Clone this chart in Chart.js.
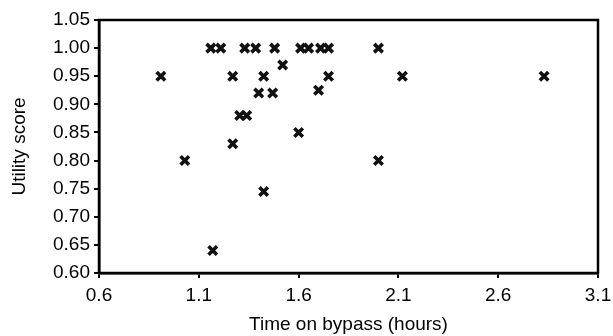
<!DOCTYPE html>
<html>
<head>
<meta charset="utf-8">
<script src="https://cdn.jsdelivr.net/npm/chart.js@4"></script>
<style>
  html, body { margin: 0; padding: 0; background: #fff; }
  #wrap { width: 613px; height: 336px; }
</style>
</head>
<body>
<div id="wrap"><canvas id="grafico"></canvas></div>
<script>
// horas de bypass e utility score
var horas = [0.91, 1.03, 1.16, 1.21, 1.17, 1.27, 1.27, 1.305, 1.34, 1.33, 1.385, 1.40, 1.425, 1.425,
  1.47, 1.48, 1.52, 1.60, 1.61, 1.65, 1.71, 1.75, 1.70, 1.75, 2.00, 2.00, 2.12, 2.83];
var utilidade = [0.95, 0.80, 1.00, 1.00, 0.64, 0.95, 0.83, 0.88, 0.88, 1.00, 1.00, 0.92, 0.95, 0.745,
  0.92, 1.00, 0.97, 0.85, 1.00, 1.00, 1.00, 1.00, 0.925, 0.95, 1.00, 0.80, 0.95, 0.95];
var ticksX = [0.6, 1.1, 1.6, 2.1, 2.6, 3.1];
var ticksY = [0.60, 0.65, 0.70, 0.75, 0.80, 0.85, 0.90, 0.95, 1.00, 1.05];

var pontos = horas.map(function (h, i) { return { x: h, y: utilidade[i] }; });

var fonte = { family: "'Liberation Sans', Arial, sans-serif", size: 19 };

// moldura preta em volta da area do grafico
var moldura = {
  id: 'moldura',
  afterDraw: function (chart) {
    var a = chart.chartArea;
    var ctx = chart.ctx;
    ctx.save();
    ctx.strokeStyle = '#000';
    ctx.lineWidth = 2.5;
    ctx.strokeRect(a.left, a.top, a.right - a.left, a.bottom - a.top);
    ctx.restore();
  }
};

Chart.defaults.color = '#000';
Chart.defaults.font.family = fonte.family;

new Chart(document.getElementById('grafico'), {
  type: 'scatter',
  data: {
    datasets: [{
      data: pontos,
      pointStyle: 'crossRot',
      pointRadius: 6,
      pointBorderWidth: 3.6,
      borderColor: '#111',
      backgroundColor: '#111'
    }]
  },
  options: {
    responsive: true,
    maintainAspectRatio: false,
    animation: false,
    layout: { padding: { top: 20, right: 15, left: 0, bottom: 0 } },
    plugins: { legend: { display: false }, tooltip: { enabled: false } },
    scales: {
      x: {
        type: 'linear',
        min: 0.6,
        max: 3.1,
        afterBuildTicks: function (s) { s.ticks = ticksX.map(function (v) { return { value: v }; }); },
        afterFit: function (s) { s.height = 63; s.paddingRight = 0; s.paddingLeft = 0; },
        ticks: {
          font: fonte,
          padding: 6,
          maxRotation: 0,
          callback: function (v) { return v.toFixed(1); }
        },
        grid: { drawOnChartArea: false, color: '#000', lineWidth: 2, tickLength: 5 },
        border: { color: '#000', width: 2.5 },
        title: { display: true, text: 'Time on bypass (hours)', font: fonte, padding: { top: 0, bottom: 0 } }
      },
      y: {
        min: 0.60,
        max: 1.05,
        afterBuildTicks: function (s) { s.ticks = ticksY.map(function (v) { return { value: v }; }); },
        afterFit: function (s) { s.width = 99; s.paddingTop = 0; s.paddingBottom = 0; },
        ticks: {
          font: fonte,
          padding: 4,
          callback: function (v) { return v.toFixed(2); }
        },
        grid: { drawOnChartArea: false, color: '#000', lineWidth: 2, tickLength: 5 },
        border: { color: '#000', width: 2.5 },
        title: { display: true, text: 'Utility score', font: fonte, padding: { top: 8, bottom: 0 } }
      }
    }
  },
  plugins: [moldura]
});
</script>
</body>
</html>
